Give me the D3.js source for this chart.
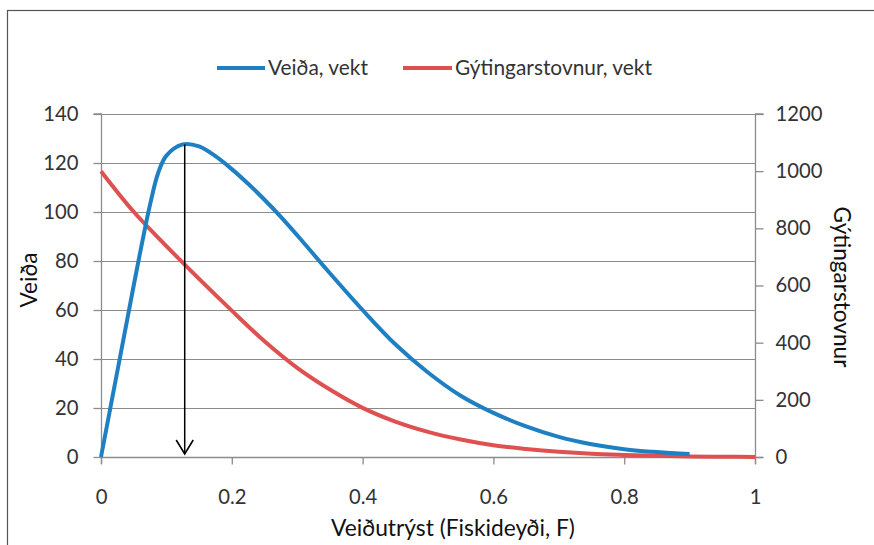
<!DOCTYPE html>
<html><head><meta charset="utf-8">
<script src="https://cdn.jsdelivr.net/npm/d3@7"></script>
<style>
body{margin:0;background:#fff}
svg{display:block}
text{font-family:Lato,"Open Sans","Noto Sans",sans-serif;}
</style>
</head><body>
<svg id="c" width="874" height="545"></svg>
<script>
// ---- data ----
const catchF      = [0, 0.025, 0.05, 0.0625, 0.075, 0.0875, 0.1, 0.125, 0.15, 0.175, 0.2, 0.225, 0.25, 0.275, 0.3, 0.35, 0.4, 0.45, 0.5, 0.55, 0.6, 0.65, 0.7, 0.75, 0.8, 0.85, 0.9];
const catchWeight = [0, 35, 70, 87, 103, 116, 123, 127.6, 126.8, 122.8, 117.5, 111.5, 105, 98, 90.5, 75, 60, 46, 34.5, 25, 18, 12.5, 8.2, 5.2, 3.2, 2, 1.2];
const ssbF        = [0, 0.05, 0.1, 0.15, 0.2, 0.25, 0.3, 0.35, 0.4, 0.45, 0.5, 0.55, 0.6, 0.65, 0.7, 0.75, 0.8, 0.85, 0.9, 0.95, 1.0];
const ssbWeight   = [1000, 858, 738, 623, 512, 405, 312, 236, 172, 124, 88, 61, 41, 28, 18, 11, 7, 4, 2, 1, 0];
const xTicks      = [0, 0.2, 0.4, 0.6, 0.8, 1];
const xTickLabels = ["0", "0.2", "0.4", "0.6", "0.8", "1"];
const leftTicks   = [0, 20, 40, 60, 80, 100, 120, 140];
const rightTicks  = [0, 200, 400, 600, 800, 1000, 1200];
const seriesNames = ["Veiða, vekt", "Gýtingarstovnur, vekt"];
const xTitle = "Veiðutrýst (Fiskideyði, F)";
const leftTitle = "Veiða";
const rightTitle = "Gýtingarstovnur";
const arrowF = 0.128; // F at maximum catch

// ---- layout ----
const plot = {left: 101, right: 755, top: 114, bottom: 457};
const blue = "#1f7fc3", red = "#df5050", grid = "#8c8c8c", txt = "#333";

const svg = d3.select("#c");
const x = d3.scaleLinear().domain([0, 1]).range([plot.left, plot.right]);
const yL = d3.scaleLinear().domain([0, 140]).range([plot.bottom, plot.top]);
const yR = d3.scaleLinear().domain([0, 1200]).range([plot.bottom, plot.top]);

// frame
svg.append("rect").attr("x", 7.5).attr("y", 10.5).attr("width", 900).attr("height", 600)
  .attr("fill", "none").attr("stroke", "#555").attr("stroke-width", 1.2);

function fitSize(sample, target) {
  const t = svg.append("text").attr("font-size", 20).text(sample);
  const w = t.node().getComputedTextLength();
  t.remove();
  return 20 * target / w;
}

// gridlines
svg.append("g").selectAll("line").data(leftTicks.filter(d => d > 0)).join("line")
  .attr("x1", plot.left).attr("x2", plot.right)
  .attr("y1", d => Math.round(yL(d)) + 0.5).attr("y2", d => Math.round(yL(d)) + 0.5)
  .attr("stroke", grid).attr("stroke-width", 1);

// axes
const tickSize = fitSize("1200", 47);
const axL = svg.append("g").attr("transform", `translate(${plot.left + 0.5},0)`)
  .call(d3.axisLeft(yL).tickValues(leftTicks).tickFormat(d3.format("d")).tickSize(8).tickPadding(15));
const axR = svg.append("g").attr("transform", `translate(${plot.right + 0.5},0)`)
  .call(d3.axisRight(yR).tickValues(rightTicks).tickFormat(d3.format("d")).tickSize(8).tickPadding(12));
const axX = svg.append("g").attr("transform", `translate(0,${plot.bottom + 0.5})`)
  .call(d3.axisBottom(x).tickValues(xTicks).tickFormat((d, i) => xTickLabels[i]).tickSize(7).tickPadding(25));
[axL, axR, axX].forEach(a => {
  a.select(".domain").attr("stroke", grid).attr("stroke-width", 1.3);
  a.selectAll(".tick line").attr("stroke", grid).attr("stroke-width", 1.3);
  a.selectAll(".tick text").attr("fill", txt).attr("font-size", tickSize)
    .attr("font-family", "Lato,'Open Sans',sans-serif");
});
axL.select(".domain").attr("d", `M-8,${plot.top}H0V${plot.bottom + 7}`);
axR.select(".domain").attr("d", `M8,${plot.top}H0V${plot.bottom + 7}`);
axX.select(".domain").attr("d", `M${plot.left},0H${plot.right + 8}`);

// lines
const curve = d3.curveCatmullRom.alpha(0.5);
const lineL = d3.line().x(d => x(d[0])).y(d => yL(d[1])).curve(curve);
const lineR = d3.line().x(d => x(d[0])).y(d => yR(d[1])).curve(curve);
svg.append("path").datum(ssbF.map((f, i) => [f, ssbWeight[i]]))
  .attr("d", lineR).attr("fill", "none").attr("stroke", red).attr("stroke-width", 4).attr("stroke-linejoin", "round");
svg.append("path").datum(catchF.map((f, i) => [f, catchWeight[i]]))
  .attr("d", lineL).attr("fill", "none").attr("stroke", blue).attr("stroke-width", 4).attr("stroke-linejoin", "round");

// arrow at maximum catch
const ax = x(arrowF), aTop = yL(d3.max(catchWeight)), aBot = yL(0) - 3;
svg.append("line").attr("x1", ax).attr("x2", ax).attr("y1", aTop).attr("y2", aBot)
  .attr("stroke", "#000").attr("stroke-width", 1.5);
svg.append("path").attr("d", `M${ax - 8.5},${aBot - 14}L${ax},${aBot}L${ax + 8.5},${aBot - 14}`)
  .attr("fill", "none").attr("stroke", "#000").attr("stroke-width", 1.6);

// legend
const legSize = fitSize(seriesNames[0], 100);
const leg = [{c: blue, x0: 217, x1: 265, tx: 268, name: seriesNames[0]},
             {c: red, x0: 403, x1: 452, tx: 455, name: seriesNames[1]}];
leg.forEach(l => {
  svg.append("line").attr("x1", l.x0).attr("x2", l.x1).attr("y1", 68).attr("y2", 68)
    .attr("stroke", l.c).attr("stroke-width", 4);
  svg.append("text").attr("x", l.tx).attr("y", 68).attr("dy", "0.35em")
    .attr("font-size", legSize).attr("fill", txt).text(l.name);
});

// axis titles
svg.append("text").attr("x", 453).attr("y", 528).attr("dy", "0.35em").attr("text-anchor", "middle")
  .attr("font-size", fitSize(xTitle, 244)).attr("fill", "#111").text(xTitle);
svg.append("text").attr("transform", "translate(29,280) rotate(-90)").attr("dy", "0.35em").attr("text-anchor", "middle")
  .attr("font-size", fitSize(leftTitle, 55)).attr("fill", "#111").text(leftTitle);
svg.append("text").attr("transform", "translate(842,287) rotate(90)").attr("dy", "0.35em").attr("text-anchor", "middle")
  .attr("font-size", fitSize(rightTitle, 161)).attr("fill", "#111").text(rightTitle);
</script>
</body></html>
